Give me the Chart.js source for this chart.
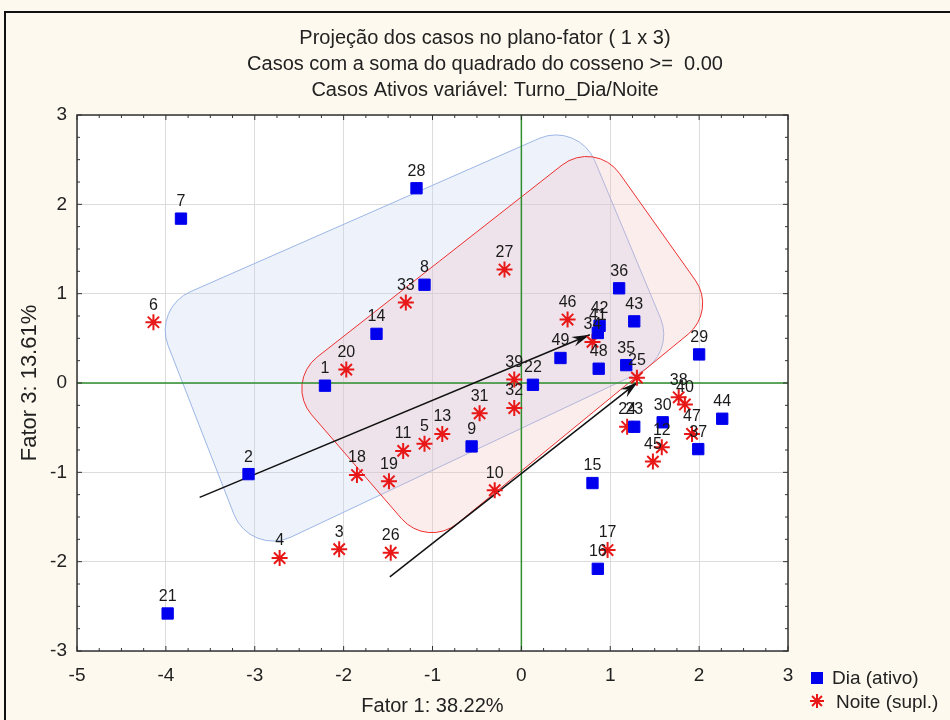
<!DOCTYPE html>
<html>
<head>
<meta charset="utf-8">
<script src="https://cdn.jsdelivr.net/npm/chart.js@4.4.1/dist/chart.umd.min.js"></script>
<style>
body { margin: 0; background: #fdf9ee; }
#wrap { width: 950px; height: 720px; }
</style>
</head>
<body>
<div id="wrap"><canvas id="chart" width="950" height="720"></canvas></div>
<script>
// Dia (ativo) - blue squares
const diaIds = ['1','2','7','8','9','14','15','16','21','22','23','28','29','30','35','36','37','41','42','43','44','48','49'];
const diaX = [-2.21,-3.07,-3.83,-1.09,-0.56,-1.63,0.80,0.86,-3.98,0.13,1.27,-1.18,2.00,1.59,1.18,1.10,1.99,0.86,0.88,1.27,2.26,0.87,0.44];
const diaY = [-0.03,-1.02,1.84,1.10,-0.71,0.55,-1.12,-2.08,-2.58,-0.02,-0.49,2.18,0.32,-0.44,0.20,1.06,-0.74,0.56,0.64,0.69,-0.40,0.16,0.28];

// Noite (supl.) - red stars
const noiteIds = ['3','4','5','6','10','11','12','13','17','18','19','20','24','25','26','27','31','32','33','34','38','39','40','45','46','47'];
const noiteX = [-2.05,-2.72,-1.09,-4.14,-0.30,-1.33,1.58,-0.89,0.97,-1.85,-1.49,-1.97,1.19,1.30,-1.47,-0.19,-0.47,-0.08,-1.30,0.80,1.77,-0.08,1.84,1.48,0.52,1.92];
const noiteY = [-1.86,-1.96,-0.68,0.68,-1.20,-0.76,-0.72,-0.57,-1.87,-1.03,-1.10,0.15,-0.49,0.06,-1.90,1.27,-0.34,-0.28,0.90,0.46,-0.16,0.04,-0.24,-0.88,0.71,-0.57];

const xTicks = [-5,-4,-3,-2,-1,0,1,2,3];
const yTicks = [-3,-2,-1,0,1,2,3];

// hand-drawn group outlines and arrows, in factor coordinates
const blueHull = [[-4.14,0.84],[0.64,2.93],[1.74,0.31],[-3.05,-1.94]];
const pinkHull = [[0.83,2.73],[2.20,0.81],[-1.06,-1.85],[-2.67,0.0]];
const arrows = [[[-3.62,-1.28],[0.77,0.54]], [[-1.48,-2.17],[1.31,0.01]]];

const titleLines = ['Projeção dos casos no plano-fator ( 1 x 3)', 'Casos com a soma do quadrado do cosseno >=  0.00', 'Casos Ativos variável: Turno_Dia/Noite'];

const FONT = '"Liberation Sans", Arial, sans-serif';

function toPts(x, y) {
    return x.map((v, i) => ({x: v, y: y[i]}));
}

function roundedPoly(ctx, pts, r) {
    const n = pts.length;
    const sx = (pts[n-1][0] + pts[0][0]) / 2, sy = (pts[n-1][1] + pts[0][1]) / 2;
    ctx.beginPath();
    ctx.moveTo(sx, sy);
    for (let i = 0; i < n; i++) {
        const p = pts[i], q = pts[(i + 1) % n];
        ctx.arcTo(p[0], p[1], (p[0] + q[0]) / 2, (p[1] + q[1]) / 2, r);
    }
    ctx.closePath();
}

const decorPlugin = {
    id: 'decor',
    beforeDraw(chart) {
        const ctx = chart.ctx, a = chart.chartArea;
        ctx.save();
        ctx.fillStyle = '#fdf9ee';
        ctx.fillRect(0, 0, chart.width, chart.height);
        ctx.strokeStyle = '#111';
        ctx.lineWidth = 2;
        ctx.strokeRect(5, 12, chart.width + 20, chart.height + 20);
        ctx.fillStyle = '#fff';
        ctx.fillRect(a.left, a.top, a.right - a.left, a.bottom - a.top);
        // titles
        ctx.fillStyle = '#222';
        ctx.font = '20px ' + FONT;
        ctx.textAlign = 'center';
        ctx.textBaseline = 'middle';
        titleLines.forEach((t, i) => ctx.fillText(t, 485, 38 + i * 26));
        // axis titles
        ctx.fillText('Fator 1: 38.22%', (a.left + a.right) / 2, 706);
        ctx.translate(30, (a.top + a.bottom) / 2);
        ctx.rotate(-Math.PI / 2);
        ctx.font = '22px ' + FONT;
        ctx.fillText('Fator 3: 13.61%', 0, 0);
        ctx.restore();
    },
    beforeDatasetsDraw(chart) {
        const ctx = chart.ctx, a = chart.chartArea;
        const xs = chart.scales.x, ys = chart.scales.y;
        const px = p => [xs.getPixelForValue(p[0]), ys.getPixelForValue(p[1])];
        ctx.save();
        ctx.beginPath();
        ctx.rect(a.left, a.top, a.right - a.left, a.bottom - a.top);
        ctx.clip();
        // blue group
        roundedPoly(ctx, blueHull.map(px), 42);
        ctx.fillStyle = 'rgba(185,205,240,0.25)';
        ctx.fill();
        ctx.strokeStyle = '#9db6e6';
        ctx.lineWidth = 1;
        ctx.stroke();
        // pink group
        roundedPoly(ctx, pinkHull.map(px), 40);
        ctx.fillStyle = 'rgba(245,185,185,0.25)';
        ctx.fill();
        ctx.strokeStyle = '#ee3030';
        ctx.stroke();
        // zero lines
        ctx.strokeStyle = '#2f8f2f';
        ctx.lineWidth = 1.5;
        const x0 = xs.getPixelForValue(0), y0 = ys.getPixelForValue(0);
        ctx.beginPath();
        ctx.moveTo(x0, a.top); ctx.lineTo(x0, a.bottom);
        ctx.moveTo(a.left, y0); ctx.lineTo(a.right, y0);
        ctx.stroke();
        // arrows
        ctx.strokeStyle = '#111';
        ctx.fillStyle = '#111';
        ctx.lineWidth = 1.5;
        arrows.forEach(ar => {
            const [sx, sy] = px(ar[0]), [ex, ey] = px(ar[1]);
            const ang = Math.atan2(ey - sy, ex - sx);
            const c = Math.cos(ang), s = Math.sin(ang);
            ctx.beginPath();
            ctx.moveTo(sx, sy); ctx.lineTo(ex, ey);
            ctx.stroke();
            ctx.beginPath();
            ctx.moveTo(ex, ey);
            ctx.lineTo(ex - 18 * c + 5 * s, ey - 18 * s - 5 * c);
            ctx.lineTo(ex - 12 * c, ey - 12 * s);
            ctx.lineTo(ex - 18 * c - 5 * s, ey - 18 * s + 5 * c);
            ctx.closePath();
            ctx.fill();
        });
        ctx.restore();
    },
    afterDatasetsDraw(chart) {
        const ctx = chart.ctx, a = chart.chartArea;
        const xs = chart.scales.x, ys = chart.scales.y;
        ctx.save();
        // point labels
        ctx.fillStyle = '#1a1a1a';
        ctx.font = '16px ' + FONT;
        ctx.textAlign = 'center';
        ctx.textBaseline = 'middle';
        [diaIds, noiteIds].forEach((ids, di) => {
            chart.getDatasetMeta(di).data.forEach((el, i) => {
                ctx.fillText(ids[i], el.x, el.y - 17);
            });
        });
        // plot frame and inward ticks
        ctx.strokeStyle = '#333';
        ctx.lineWidth = 1.5;
        ctx.strokeRect(a.left, a.top, a.right - a.left, a.bottom - a.top);
        ctx.lineWidth = 1;
        ctx.beginPath();
        for (let v = -5; v <= 3.001; v += 0.25) {
            const p = xs.getPixelForValue(v);
            const len = Math.abs(v - Math.round(v)) < 0.01 ? 5 : 3;
            ctx.moveTo(p, a.bottom); ctx.lineTo(p, a.bottom - len);
            ctx.moveTo(p, a.top); ctx.lineTo(p, a.top + len);
        }
        for (let v = -3; v <= 3.001; v += 0.25) {
            const p = ys.getPixelForValue(v);
            const len = Math.abs(v - Math.round(v)) < 0.01 ? 5 : 3;
            ctx.moveTo(a.left, p); ctx.lineTo(a.left + len, p);
            ctx.moveTo(a.right, p); ctx.lineTo(a.right - len, p);
        }
        ctx.stroke();
        ctx.restore();
    },
    afterDraw(chart) {
        const ctx = chart.ctx;
        ctx.save();
        // legend
        ctx.fillStyle = '#0000ee';
        ctx.fillRect(811, 672, 12, 12);
        ctx.strokeStyle = '#e81818';
        ctx.lineWidth = 2;
        const cx = 817, cy = 701, r = 7;
        ctx.beginPath();
        for (let k = 0; k < 4; k++) {
            const an = k * Math.PI / 4;
            ctx.moveTo(cx - r * Math.cos(an), cy - r * Math.sin(an));
            ctx.lineTo(cx + r * Math.cos(an), cy + r * Math.sin(an));
        }
        ctx.stroke();
        ctx.fillStyle = '#222';
        ctx.font = '19px ' + FONT;
        ctx.textAlign = 'left';
        ctx.textBaseline = 'middle';
        ctx.fillText('Dia (ativo)', 832, 679);
        ctx.fillText('Noite (supl.)', 836, 703);
        ctx.restore();
    }
};

new Chart('chart', {
    type: 'scatter',
    data: {
        datasets: [{
            label: 'Dia (ativo)',
            data: toPts(diaX, diaY),
            pointStyle: 'rect',
            pointRadius: 8,
            pointHoverRadius: 8,
            backgroundColor: '#0000ee',
            borderColor: '#0000ee',
            borderWidth: 1
        }, {
            label: 'Noite (supl.)',
            data: toPts(noiteX, noiteY),
            pointStyle: 'star',
            pointRadius: 8,
            pointHoverRadius: 8,
            backgroundColor: '#e81818',
            borderColor: '#e81818',
            borderWidth: 2
        }]
    },
    options: {
        responsive: false,
        animation: false,
        events: [],
        layout: { padding: { top: 115, right: 162, left: 0, bottom: 0 } },
        plugins: {
            legend: { display: false },
            tooltip: { enabled: false }
        },
        scales: {
            x: {
                type: 'linear',
                min: -5, max: 3,
                afterBuildTicks: scale => { scale.ticks = xTicks.map(v => ({value: v})); },
                afterFit: scale => { scale.height = 69; },
                grid: { color: '#dcdcdc', drawTicks: false },
                border: { display: false },
                ticks: { padding: 13, color: '#222', font: { size: 19, family: FONT } }
            },
            y: {
                type: 'linear',
                min: -3, max: 3,
                afterBuildTicks: scale => { scale.ticks = yTicks.map(v => ({value: v})); },
                afterFit: scale => { scale.width = 77; },
                grid: { color: '#dcdcdc', drawTicks: false },
                border: { display: false },
                ticks: { padding: 10, color: '#222', font: { size: 19, family: FONT } }
            }
        }
    },
    plugins: [decorPlugin]
});
</script>
</body>
</html>
